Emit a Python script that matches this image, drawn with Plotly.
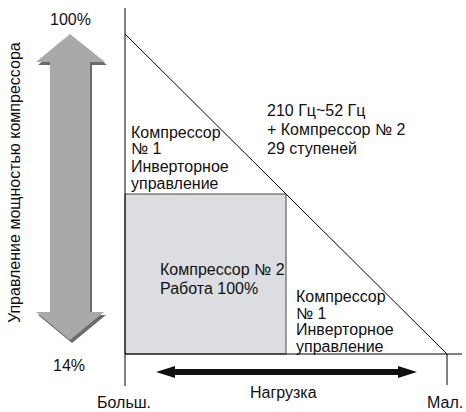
import plotly.graph_objects as go

# ---- data ----
load_points = [0, 100]          # Больш. -> Мал.
capacity_points = [100, 14]     # %
comp2_load = [0, 50]
comp2_capacity = [14, 57]
capacity_labels = ["100%", "14%"]
load_labels = ["Больш.", "Мал."]
axis_title_y = "Управление мощностью компрессора"
axis_title_x = "Нагрузка"
text_inv_top = ["Компрессор", "№ 1", "Инверторное", "управление"]
text_freq = ["210 Гц~52 Гц", "+ Компрессор № 2", "29 ступеней"]
text_comp2 = ["Компрессор № 2", "Работа 100%"]
text_inv_bot = ["Компрессор", "№ 1", "Инверторное", "управление"]

W, H = 466, 412
FONT = "Liberation Sans, Arial, sans-serif"
FS = 16


def px(x):
    return x / W


def py(y):
    return 1 - y / H


fig = go.Figure()

# diagonal capacity line
fig.add_trace(go.Scatter(x=load_points, y=capacity_points, mode="lines",
                         line=dict(color="black", width=1), hoverinfo="skip"))

shapes = []
# compressor 2 rectangle
shapes.append(dict(type="rect", xref="x", yref="y",
                   x0=comp2_load[0], x1=comp2_load[1], y0=comp2_capacity[0], y1=comp2_capacity[1],
                   fillcolor="#dcdde0", line=dict(color="#444444", width=1), layer="below"))

# axes lines
shapes.append(dict(type="line", xref="paper", yref="paper", x0=px(125), x1=px(125), y0=py(8), y1=py(386),
                   line=dict(color="black", width=1)))
shapes.append(dict(type="line", xref="paper", yref="paper", x0=px(125), x1=px(462), y0=py(354), y1=py(354),
                   line=dict(color="black", width=1)))
shapes.append(dict(type="line", xref="x", yref="paper", x0=100, x1=100, y0=py(354), y1=py(385),
                   line=dict(color="black", width=1)))


def poly(points, dx=0, dy=0):
    return "M " + " L ".join(f"{px(x + dx):.5f},{py(y + dy):.5f}" for x, y in points) + " Z"


gray_arrow = [(70, 34), (105, 62), (90, 62), (90, 312), (104, 312), (70, 340),
              (36, 312), (50, 312), (50, 62), (36, 62)]
shapes.append(dict(type="path", xref="paper", yref="paper", path=poly(gray_arrow, 2, 3),
                   fillcolor="#6b6b6b", line=dict(width=0)))
shapes.append(dict(type="path", xref="paper", yref="paper", path=poly(gray_arrow),
                   fillcolor="#a8a9ab", line=dict(width=0)))

black_arrow = [(156, 372), (175, 366), (175, 369), (398, 369), (398, 366), (417, 372),
               (398, 378), (398, 375), (175, 375), (175, 378)]
shapes.append(dict(type="path", xref="paper", yref="paper", path=poly(black_arrow),
                   fillcolor="#111111", line=dict(width=0)))

annotations = []


def label(text, x, y, xanchor="center", size=FS, angle=0):
    annotations.append(dict(text=text, x=px(x), y=py(y), xref="paper", yref="paper",
                            xanchor=xanchor, yanchor="middle", showarrow=False,
                            textangle=angle, font=dict(family=FONT, size=size, color="#111111"),
                            borderpad=0))


def block(lines, x, y0, step):
    for i, t in enumerate(lines):
        label(t, x, y0 + i * step, xanchor="left")


label(capacity_labels[0], 70, 20)
label(capacity_labels[1], 69, 365)
label(load_labels[0], 124, 402)
label(load_labels[1], 445, 402)
label(axis_title_x, 283, 392)
label(axis_title_y, 14, 183, angle=-90)

block(text_inv_top, 130, 132, 17)
block(text_freq, 266, 110, 19)
block(text_comp2, 159, 269, 19)
block(text_inv_bot, 295, 296.5, 16.5)

fig.update_layout(
    width=W, height=H, margin=dict(l=0, r=0, t=0, b=0),
    paper_bgcolor="white", plot_bgcolor="white", showlegend=False,
    xaxis=dict(range=[-125 / 3.22, (W - 125) / 3.22], visible=False, fixedrange=True),
    yaxis=dict(range=[14 - (H - 354) / (320 / 86), 100 + 34 / (320 / 86)], visible=False, fixedrange=True),
    shapes=shapes, annotations=annotations,
)

fig.write_html("out.html", config={"displayModeBar": False},
               post_script="document.body.style.margin='0px';document.body.style.overflow='hidden';")
